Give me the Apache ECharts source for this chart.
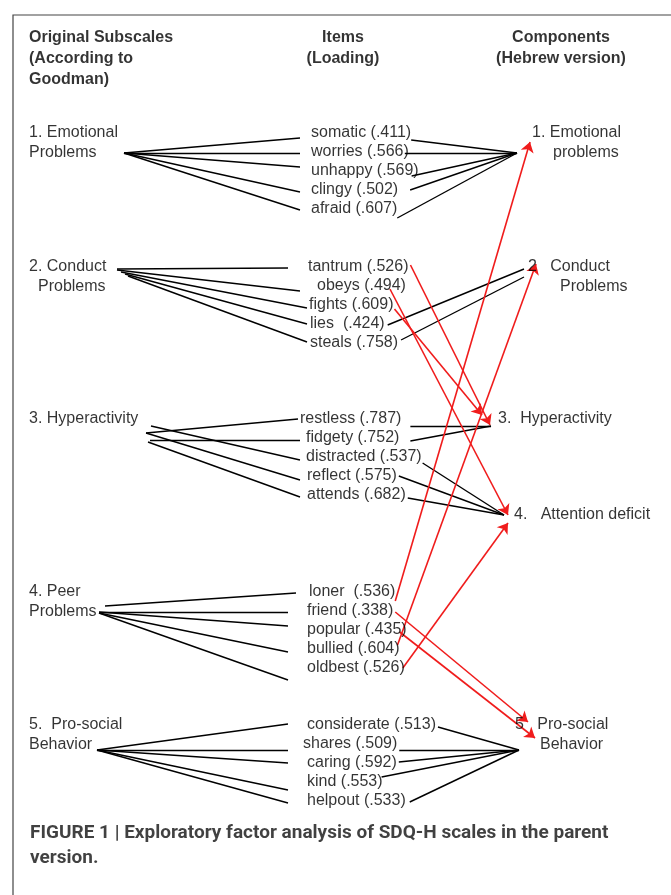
<!DOCTYPE html>
<html><head><meta charset="utf-8">
<script src="https://cdn.jsdelivr.net/npm/echarts@6/dist/echarts.min.js"></script>
<style>html,body{margin:0;padding:0;background:#fff}#chart{width:671px;height:895px}</style>
</head><body><div id="chart"></div>
<script>
// ================= DATA =================
const headerLeft = ['Original Subscales', '(According to', 'Goodman)'];
const headerMid = ['Items', '(Loading)'];
const headerRight = ['Components', '(Hebrew version)'];

const subscales = [
  ['1. Emotional', 'Problems'],
  ['2. Conduct', 'Problems'],
  ['3. Hyperactivity'],
  ['4. Peer', 'Problems'],
  ['5.  Pro-social', 'Behavior']
];
const items = [
  ['somatic', 'worries', 'unhappy', 'clingy', 'afraid'],
  ['tantrum', 'obeys', 'fights', 'lies ', 'steals'],
  ['restless', 'fidgety', 'distracted', 'reflect', 'attends'],
  ['loner ', 'friend', 'popular', 'bullied', 'oldbest'],
  ['considerate', 'shares', 'caring', 'kind', 'helpout']
];
const loadings = [
  [0.411, 0.566, 0.569, 0.502, 0.607],
  [0.526, 0.494, 0.609, 0.424, 0.758],
  [0.787, 0.752, 0.537, 0.575, 0.682],
  [0.536, 0.338, 0.435, 0.604, 0.526],
  [0.513, 0.509, 0.592, 0.553, 0.533]
];
const components = [
  ['1. Emotional', 'problems'],
  ['2   Conduct', 'Problems'],
  ['3.  Hyperactivity'],
  ['4.   Attention deficit'],
  ['5   Pro-social', 'Behavior']
];
// component index each item loads on (Hebrew version)
const assignment = [
  [0, 0, 0, 0, 0],
  [2, 3, 2, 1, 1],
  [2, 2, 3, 3, 3],
  [0, 4, 4, 1, 3],
  [4, 4, 4, 4, 4]
];
// components that correspond to each original subscale
const matchingComponents = [[0], [1], [2, 3], [], [4]];
const caption = ['FIGURE 1 | Exploratory factor analysis of SDQ-H scales in the parent', 'version.'];

// ================= LAYOUT (positions / styles only) =================
const W = 671, H = 895;
const FONT = '"Liberation Sans", Arial, sans-serif';
const groupY = [133, 267, 419, 592, 725];
const rowStep = 19;
const subLineStep = 19.5;
const subX = [[29, 29], [29, 38], [29], [29, 29], [29, 29]];
const itemX = [[311,311,311,311,311],[308,317,309,310,310],[300,306,306,307,307],[309,307,307,307,307],[307,303,307,307,307]];
const compX = [[532, 553], [528, 560], [498], [514], [515, 540]];
const compY = [133, 267, 419, 515, 725];
// left connector start (subscale side) and end (item side)
const leftStart = [
  [[124,153],[124,153],[124,153],[124,153],[124,153]],
  [[117,269],[117,270],[121,272],[125,274],[128,276]],
  [[146,433],[150,440],[151,426],[146,433],[148,442]],
  [[105,606],[99,612],[99,612],[99,613],[99,613]],
  [[97,750],[97,750],[97,750],[97,750],[97,750]]
];
const leftEnd = [
  [[300,138],[300,153],[300,167],[300,192],[300,210]],
  [[288,268],[300,291],[307,308],[307,324],[307,342]],
  [[298,419],[300,440],[300,460],[300,480],[300,497]],
  [[296,593],[288,612],[288,626],[288,652],[288,680]],
  [[288,724],[288,750],[288,763],[288,790],[288,803]]
];
// offset of right connector start from item text end
const rightOff = [
  [[0,7],[-4,1],[-7,5],[12,0],[0,9]],
  [[2,-2],[-16,3],[1,4],[3,1],[3,-3]],
  [[9,7],[11,3],[1,6],[2,0],[2,3]],
  [[0,9],[2,1],[-7,2],[-2,-4],[-2,0]],
  [[2,2],[2,6],[2,-1],[-1,-5],[4,1]]
];
const hubEnds = [[[517,153]], [[524,269],[524,277]], [[491,426]], [[504,515]], [[519,750]]];
const arrowTips = [[[530,142]], [[536,264]], [[490,425],[482,415]], [[508,515],[508,523]], [[528,722],[535,738]]];

// ================= BUILD =================
const mctx = document.createElement('canvas').getContext('2d');
mctx.font = '16px ' + FONT;
const tw = s => mctx.measureText(s).width;
const fmt = v => '(' + v.toFixed(3).replace(/^0/, '') + ')';

const texts = [];
function addText(x, y, s, opt) {
  texts.push({ value: [x, y], name: s, label: Object.assign({ align: 'left', fontSize: 16, fontWeight: 'normal', fontFamily: FONT, color: '#000' }, opt || {}) });
}
headerLeft.forEach((s, i) => addText(29, 38 + i * 21, s, { fontWeight: 'bold' }));
headerMid.forEach((s, i) => addText(343, 38 + i * 21, s, { fontWeight: 'bold', align: 'center' }));
headerRight.forEach((s, i) => addText(561, 38 + i * 21, s, { fontWeight: 'bold', align: 'center' }));
subscales.forEach((lines, g) => lines.forEach((s, k) => addText(subX[g][k], groupY[g] + k * subLineStep, s)));
components.forEach((lines, c) => lines.forEach((s, k) => addText(compX[c][k], compY[c] + k * subLineStep, s)));

const blackLines = [], redLines = [];
const hubUse = components.map(() => 0), tipUse = components.map(() => 0);
items.forEach((grp, g) => grp.forEach((name, i) => {
  const y = groupY[g] + i * rowStep;
  const label = name + ' ' + fmt(loadings[g][i]);
  addText(itemX[g][i], y, label);
  blackLines.push({ coords: [leftStart[g][i], leftEnd[g][i]] });
  const endX = itemX[g][i] + tw(label);
  const start = [endX + rightOff[g][i][0], y + rightOff[g][i][1]];
  const c = assignment[g][i];
  if (matchingComponents[g].indexOf(c) >= 0) {
    const list = hubEnds[c];
    const p = list[Math.min(hubUse[c]++, list.length - 1)];
    blackLines.push({ coords: [start, p] });
  } else {
    const list = arrowTips[c];
    const p = list[Math.min(tipUse[c]++, list.length - 1)];
    redLines.push({ coords: [start, p] });
  }
}));
caption.forEach((s, i) => addText(30, 833 + i * 25, s, { fontWeight: 'bold', fontSize: 19, fontFamily: 'Roboto, "Liberation Sans", sans-serif', color: '#111' }));

const chart = echarts.init(document.getElementById('chart'));
chart.setOption({
  animation: false,
  backgroundColor: '#fff',
  grid: { left: 0, right: 0, top: 0, bottom: 0 },
  xAxis: { type: 'value', min: 0, max: W, show: false },
  yAxis: { type: 'value', min: 0, max: H, inverse: true, show: false },
  series: [
    { type: 'lines', coordinateSystem: 'cartesian2d', polyline: true, silent: true,
      data: [{ coords: [[13, H], [13, 15], [W, 15]] }],
      lineStyle: { color: '#444', width: 1.2, opacity: 1 } },
    { type: 'lines', coordinateSystem: 'cartesian2d', silent: true, data: blackLines,
      lineStyle: { color: '#000', width: 1.4, opacity: 1, curveness: 0 } },
    { type: 'lines', coordinateSystem: 'cartesian2d', silent: true, data: redLines,
      symbol: ['none', 'arrow'], symbolSize: 10,
      lineStyle: { color: '#f01c1c', width: 1.6, opacity: 1, curveness: 0 } },
    { type: 'scatter', silent: true, symbolSize: 1, itemStyle: { color: 'rgba(0,0,0,0)' }, data: texts,
      labelLayout: { hideOverlap: false },
      label: { show: true, position: 'inside', verticalAlign: 'middle', color: '#000', textBorderWidth: 0, formatter: p => p.name } }
  ]
});
</script></body></html>
